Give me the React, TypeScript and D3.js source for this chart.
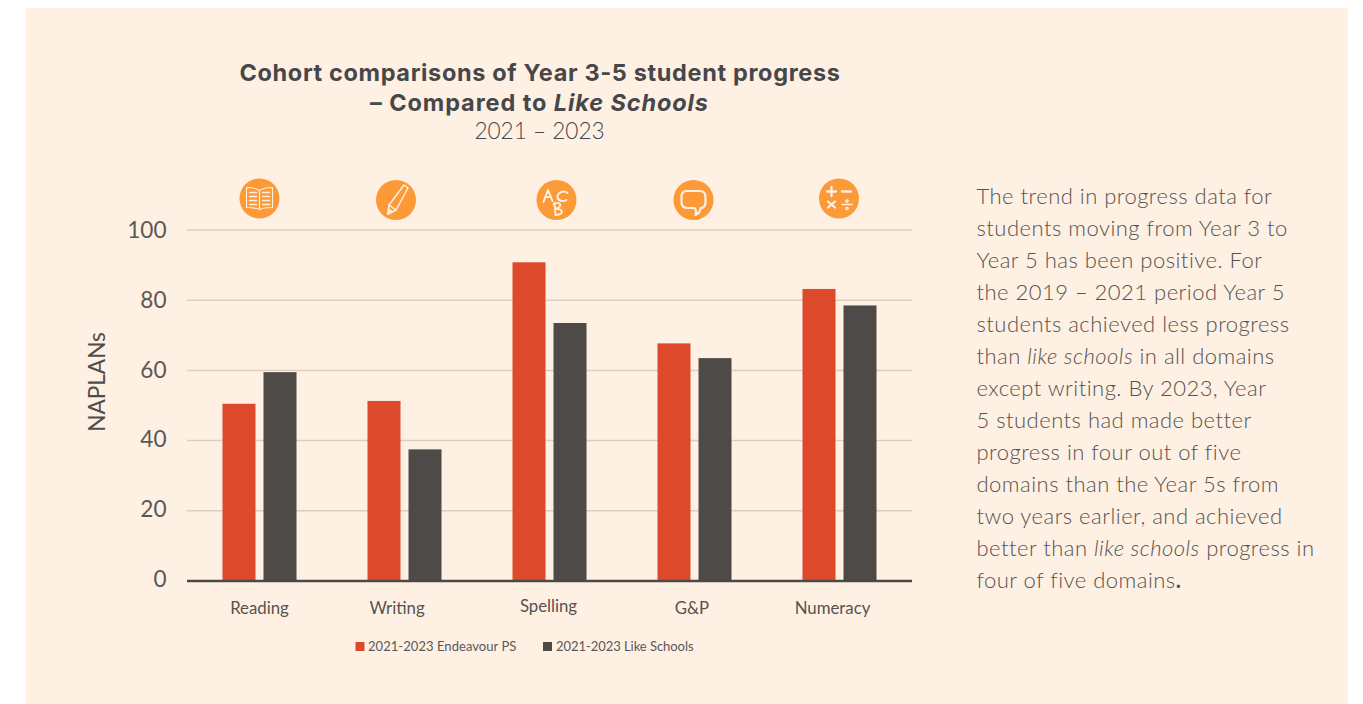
import React from "react";
import * as d3 from "d3";

const categories = ["Reading", "Writing", "Spelling", "G&P", "Numeracy"];
const endeavour = [50.5, 51.3, 90.8, 67.7, 83.2];
const likeSchools = [59.5, 37.5, 73.5, 63.5, 78.5];
const seriesNames = ["2021-2023 Endeavour PS", "2021-2023 Like Schools"];
const yTicks = [0, 20, 40, 60, 80, 100];
const paragraph: (string | [string, boolean])[][] = [
  ["The trend in progress data for"],
  ["students moving from Year 3 to"],
  ["Year 5 has been positive. For"],
  ["the 2019 – 2021 period Year 5"],
  ["students achieved less progress"],
  ["than ", ["like schools", true], " in all domains"],
  ["except writing. By 2023, Year"],
  ["5 students had made better"],
  ["progress in four out of five"],
  ["domains than the Year 5s from"],
  ["two years earlier, and achieved"],
  ["better than ", ["like schools", true], " progress in"],
  ["four of five domains", [".", false]],
];

const RED = "#dc4a2b";
const DARK = "#4d4a47";
const ORANGE = "#fd9a38";
const BG = "#fff0e4";
const GRID = "#dccdc0";
const TITLE = "#47474a";

const x = d3.scaleBand().domain(categories).range([187, 912]);
const y = d3.scaleLinear().domain([0, 100]).range([581, 230]);
const yLabel = d3.scaleLinear().domain([0, 100]).range([587, 238]);
const barW = 33;
const gap = 8;

function Icon({ cx, cy, kind }: { cx: number; cy: number; kind: number }) {
  const s = { fill: "none", stroke: "#fff0e4", strokeWidth: 1.5, strokeLinecap: "round", strokeLinejoin: "round" } as const;
  let g: React.ReactNode = null;
  if (kind === 0) {
    g = (
      <g {...s} strokeWidth={1.1}>
        <path d="M0 -8 C-4 -11 -9 -11 -13 -11 L-13 9 C-9 9 -4 9 0 11 C4 9 9 9 13 9 L13 -11 C9 -11 4 -11 0 -8 Z" />
        <path d="M0 -8 V11" />
        <path d="M-10 -6 H-3 M-10 -2 H-3 M-10 2 H-3 M-10 6 H-3 M3 -6 H10 M3 -2 H10 M3 2 H10 M3 6 H10" strokeWidth={1.4} />
      </g>
    );
  } else if (kind === 1) {
    g = (
      <g {...s}>
        <path d="M8 -15 L12 -12 L0 10 L-8 14 L-7 5 Z" />
        <path d="M-7 5 L0 10" />
        <path d="M-8 14 L-7.5 9 L-4 11.5 Z" fill="#fff0e4" />
      </g>
    );
  } else if (kind === 2) {
    g = (
      <g {...s} strokeWidth={1.9}>
        <path d="M-13 2 L-8.5 -10 L-4 1 M-11.5 -3 H-5.5" />
        <path d="M11 -7 C8 -10 1 -8 1 -3 C1 1 7 2 10 0" />
        <path d="M-2 3 L-1 15 M-3 4 C4 1 7 6 -1 9 C7 8 8 15 -1 15" />
      </g>
    );
  } else if (kind === 3) {
    g = (
      <g {...s} strokeWidth={2.2}>
        <path d="M-7 -9 H6 C10 -9 12 -7 12 -3 V2 C12 6 10 8 7 8 H7 C7 11 6 13 2 15 C3 12 3 10 1 8 H-6 C-10 8 -12 6 -12 2 V-3 C-12 -7 -10 -9 -7 -9 Z" />
      </g>
    );
  } else {
    g = (
      <g {...s} strokeWidth={2.3}>
        <path d="M-12 -7 H-3 M-7.5 -11.5 V-2.5 M3 -7 H12" />
        <path d="M-11 3 L-4 9 M-4 3 L-11 9" />
        <path d="M3 6 H13" strokeWidth={1.6} />
        <circle cx={8} cy={2.5} r={0.7} />
        <circle cx={8} cy={10} r={0.7} />
      </g>
    );
  }
  return (
    <g transform={`translate(${cx},${cy})`}>
      <circle r={20} fill={ORANGE} />
      {g}
    </g>
  );
}

const iconPos = [
  [259.5, 198.5],
  [396, 200],
  [556.5, 200],
  [693.5, 200],
  [839, 198.5],
];
const labelPos = [
  [259.5, 613.7],
  [397, 613.7],
  [548.5, 611.7],
  [692, 613.7],
  [832.5, 613.7],
];

export default function App() {
  return (
    <svg width={1363} height={704} style={{ position: "absolute", left: 0, top: 0, background: "#fff" }}>
      <rect x={26} y={8} width={1322} height={696} fill={BG} />

      <g fontFamily="Inter, 'Open Sans', sans-serif" fontWeight={700} fontSize={23.5} fill={TITLE} textAnchor="middle">
        <text x={540} y={80.5} letterSpacing={0.65}>Cohort comparisons of Year 3-5 student progress</text>
        <text x={539.5} y={110.5} letterSpacing={0.9}>
          – Compared to <tspan fontStyle="italic">Like Schools</tspan>
        </text>
      </g>
      <text x={539.5} y={139} textAnchor="middle" fontFamily="Lato" fontWeight={300} fontSize={22.6} fill={TITLE}>2021 – 2023</text>

      {categories.map((_, i) => (
        <Icon key={i} kind={i} cx={iconPos[i][0]} cy={iconPos[i][1]} />
      ))}

      {yTicks.filter((t) => t > 0).map((t) => (
        <line key={t} x1={187} x2={912} y1={y(t)} y2={y(t)} stroke={GRID} strokeWidth={1.5} />
      ))}

      {categories.map((c, i) => {
        const cx = x(c)! + x.bandwidth() / 2;
        return (
          <g key={c}>
            <rect x={cx - gap / 2 - barW} y={y(endeavour[i])} width={barW} height={y(0) - y(endeavour[i])} fill={RED} />
            <rect x={cx + gap / 2} y={y(likeSchools[i])} width={barW} height={y(0) - y(likeSchools[i])} fill={DARK} />
            <text x={labelPos[i][0]} y={labelPos[i][1]} textAnchor="middle" fontFamily="Lato" fontSize={16.8} fill="#56534f">{c}</text>
          </g>
        );
      })}
      <line x1={187} x2={912} y1={581} y2={581} stroke="#4b4948" strokeWidth={2.5} />

      {yTicks.map((t) => (
        <text key={t} x={166.5} y={yLabel(t)} textAnchor="end" fontFamily="Lato" fontSize={22.6} fill="#5a5856">{t}</text>
      ))}
      <text transform="translate(105,382) rotate(-90)" textAnchor="middle" fontFamily="Lato" fontSize={22.6} fill="#4f4d4b">NAPLANs</text>

      <g fontFamily="Lato" fontSize={13} fill="#5a5856">
        <rect x={355.5} y={642} width={9} height={9} fill={RED} />
        <text x={368} y={651} letterSpacing={0.05}>{seriesNames[0]}</text>
        <rect x={543} y={642} width={9} height={9} fill={DARK} />
        <text x={556} y={651} letterSpacing={-0.05}>{seriesNames[1]}</text>
      </g>

      <g fontFamily="Lato" fontWeight={300} fontSize={22} fill="#55534f" letterSpacing={0.48}>
        {paragraph.map((line, i) => (
          <text key={i} x={976.5} y={204 + i * 32}>
            {line.map((p, j) =>
              typeof p === "string" ? (
                <tspan key={j}>{p}</tspan>
              ) : p[1] ? (
                <tspan key={j} fontStyle="italic">{p[0]}</tspan>
              ) : (
                <tspan key={j} fontWeight={700}>{p[0]}</tspan>
              )
            )}
          </text>
        ))}
      </g>
    </svg>
  );
}
